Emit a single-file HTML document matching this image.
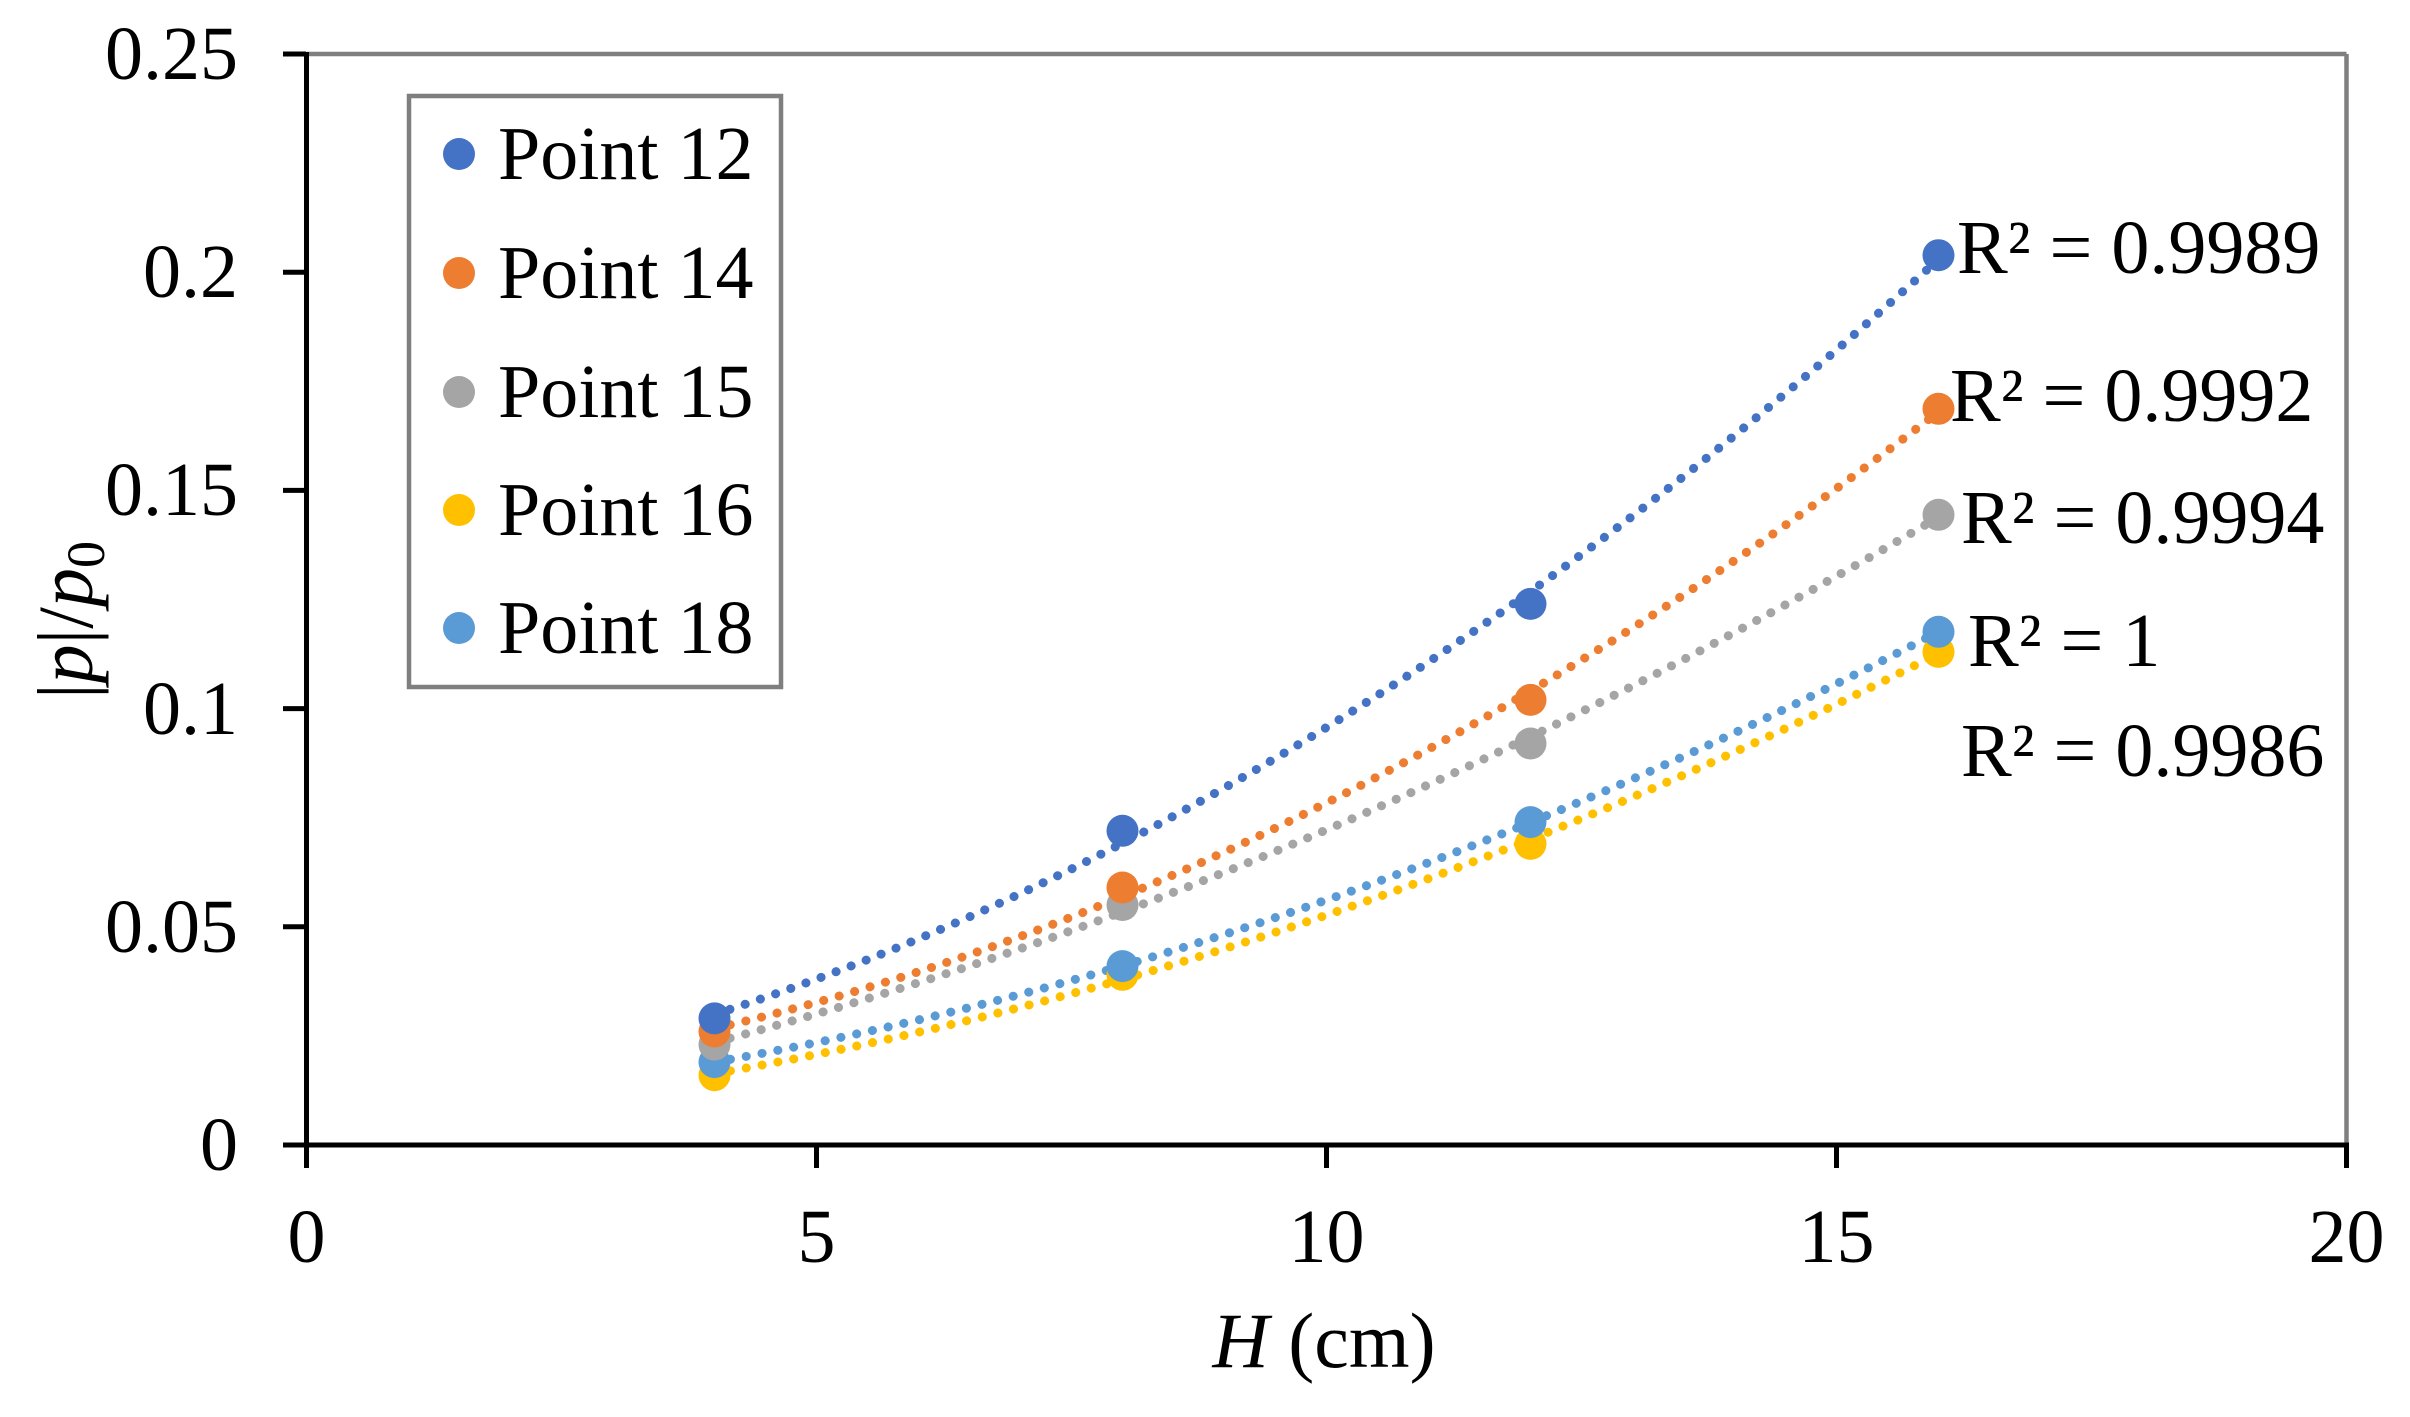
<!DOCTYPE html>
<html><head><meta charset="utf-8"><style>
html,body{margin:0;padding:0;background:#fff;}
svg{display:block;}
text{font-family:"Liberation Serif",serif;fill:#000;}
</style></head><body>
<svg id="s" width="2410" height="1417" viewBox="0 0 2410 1417" xmlns="http://www.w3.org/2000/svg">
<rect width="2410" height="1417" fill="#fff"/>
<line x1="306.5" y1="54" x2="2346.5" y2="54" stroke="#7f7f7f" stroke-width="4.5"/>
<line x1="2346.5" y1="54" x2="2346.5" y2="1145" stroke="#7f7f7f" stroke-width="4.5"/>
<g id="series"></g>
<line x1="306.5" y1="52" x2="306.5" y2="1147.5" stroke="#000" stroke-width="5"/>
<line x1="304" y1="1145" x2="2349" y2="1145" stroke="#000" stroke-width="5"/>
<g stroke="#000" stroke-width="5">
<line x1="283" y1="54" x2="306" y2="54"/>
<line x1="283" y1="272.2" x2="306" y2="272.2"/>
<line x1="283" y1="490.4" x2="306" y2="490.4"/>
<line x1="283" y1="708.6" x2="306" y2="708.6"/>
<line x1="283" y1="926.8" x2="306" y2="926.8"/>
<line x1="283" y1="1145" x2="306" y2="1145"/>
<line x1="306.5" y1="1145" x2="306.5" y2="1168"/>
<line x1="816.5" y1="1145" x2="816.5" y2="1168"/>
<line x1="1326.5" y1="1145" x2="1326.5" y2="1168"/>
<line x1="1836.5" y1="1145" x2="1836.5" y2="1168"/>
<line x1="2346.5" y1="1145" x2="2346.5" y2="1168"/>
</g>
<g font-size="76" text-anchor="end">
<text x="238" y="79">0.25</text>
<text x="238" y="297">0.2</text>
<text x="238" y="515">0.15</text>
<text x="238" y="734">0.1</text>
<text x="238" y="952">0.05</text>
<text x="238" y="1170">0</text>
</g>
<g font-size="76" text-anchor="middle">
<text x="306.5" y="1262">0</text>
<text x="816.5" y="1262">5</text>
<text x="1326.5" y="1262">10</text>
<text x="1836.5" y="1262">15</text>
<text x="2346.5" y="1262">20</text>
</g>
<text x="1324" y="1367" font-size="78" text-anchor="middle"><tspan font-style="italic">H</tspan> (cm)</text>
<text transform="translate(92,620) rotate(-90)" font-size="78" text-anchor="middle">|<tspan font-style="italic">p</tspan>|/<tspan font-style="italic">p</tspan><tspan font-size="54" dy="12">0</tspan></text>
<rect x="409" y="96" width="372" height="591" fill="#fff" stroke="#7f7f7f" stroke-width="4.5"/>
<g font-size="76">
<circle cx="459" cy="154" r="16" fill="#4472C4"/><text x="498" y="179">Point 12</text>
<circle cx="459" cy="273" r="16" fill="#ED7D31"/><text x="498" y="298">Point 14</text>
<circle cx="459" cy="392" r="16" fill="#A5A5A5"/><text x="498" y="417">Point 15</text>
<circle cx="459" cy="510" r="16" fill="#FFC000"/><text x="498" y="535">Point 16</text>
<circle cx="459" cy="628" r="16" fill="#5B9BD5"/><text x="498" y="653">Point 18</text>
</g>
<g font-size="76">
<text x="1957" y="273">R² = 0.9989</text>
<text x="1950" y="421">R² = 0.9992</text>
<text x="1961" y="543">R² = 0.9994</text>
<text x="1968" y="666">R² = 1</text>
<text x="1961" y="776">R² = 0.9986</text>
</g>
</svg>
<script>
(function(){
var X=function(x){return 306.5+102*x;}, Y=function(v){return 1145-4364*v;};
var S=[
 ["#FFC000",[0.016,0.039,0.069,0.1130]],
 ["#5B9BD5",[0.019,0.041,0.074,0.1176]],
 ["#A5A5A5",[0.023,0.055,0.092,0.1444]],
 ["#ED7D31",[0.026,0.059,0.102,0.1687]],
 ["#4472C4",[0.029,0.072,0.124,0.2039]]
];
var xs=[4,8,12,16];
function fit(ys){
 var n=4,s=[0,0,0,0,0],t=[0,0,0];
 for(var i=0;i<n;i++){var x=xs[i];for(var k=0;k<5;k++)s[k]+=Math.pow(x,k);for(var k=0;k<3;k++)t[k]+=ys[i]*Math.pow(x,k);}
 var A=[[s[0],s[1],s[2],t[0]],[s[1],s[2],s[3],t[1]],[s[2],s[3],s[4],t[2]]];
 for(var i=0;i<3;i++){for(var j=i+1;j<3;j++){var f=A[j][i]/A[i][i];for(var k=i;k<4;k++)A[j][k]-=f*A[i][k];}}
 var c=[0,0,0];
 for(var i=2;i>=0;i--){var v=A[i][3];for(var k=i+1;k<3;k++)v-=A[i][k]*c[k];c[i]=v/A[i][i];}
 return c;
}
var g=document.getElementById("series"),h="";
S.forEach(function(s){
 var c=fit(s[1]),d="";
 for(var x=4;x<=16.0001;x+=0.1){var v=c[0]+c[1]*x+c[2]*x*x;d+=(d?"L":"M")+X(x).toFixed(1)+","+Y(v).toFixed(1);}
 h+='<path d="'+d+'" fill="none" stroke="'+s[0]+'" stroke-width="9" stroke-linecap="round" stroke-dasharray="0.1 16"/>';
});
S.forEach(function(s){
 for(var i=0;i<4;i++)h+='<circle cx="'+X(xs[i])+'" cy="'+Y(s[1][i]).toFixed(1)+'" r="16" fill="'+s[0]+'"/>';
});
g.innerHTML=h;
})();
</script>
</body></html>
